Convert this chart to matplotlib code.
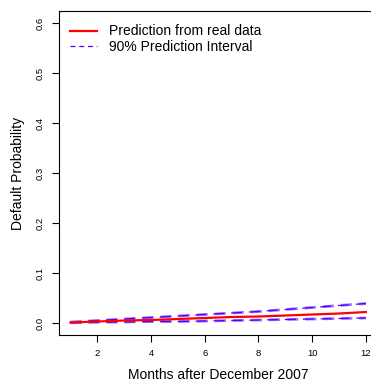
import matplotlib.pyplot as plt

plt.rcParams["font.family"] = ["Liberation Sans", "DejaVu Sans"]

months = list(range(1, 13))
pred = [0.001, 0.003, 0.005, 0.006, 0.008, 0.010, 0.012, 0.013, 0.015, 0.017, 0.019, 0.022]
upper = [0.002, 0.005, 0.008, 0.011, 0.014, 0.017, 0.020, 0.023, 0.027, 0.031, 0.035, 0.039]
lower = [0.0005, 0.0015, 0.002, 0.003, 0.003, 0.004, 0.005, 0.006, 0.007, 0.008, 0.009, 0.010]

x_ticks = [2, 4, 6, 8, 10, 12]
y_ticks = [0.0, 0.1, 0.2, 0.3, 0.4, 0.5, 0.6]


def main():
    fig = plt.figure(figsize=(3.71, 3.83), dpi=100)
    ax = fig.add_axes([0.158, 0.1253, 0.86, 0.846])

    for band in (upper, lower):
        ax.plot(months, band, color="#a070ff", linewidth=2.0, dashes=(4, 2.5))
        ax.plot(months, band, color="#5000ff", linewidth=0.9, dashes=(4 * 2.2, 2.5 * 2.2))
    ax.plot(months, pred, color="red", linewidth=1.6, label="Prediction from real data")
    ax.plot([], [], color="#5000ff", linewidth=0.9, dashes=(4, 3), label="90% Prediction Interval")

    ax.set_xlim(0.56, 12.44)
    ax.set_ylim(-0.024, 0.624)
    ax.set_xticks(x_ticks)
    ax.set_yticks(y_ticks)
    ax.set_yticklabels([f"{v:.1f}" for v in y_ticks], rotation=90, va="center")
    ax.tick_params(labelsize=6.8, length=5, width=0.8, pad=5)
    for s in ax.spines.values():
        s.set_linewidth(0.8)

    ax.set_xlabel("Months after December 2007", fontsize=10, labelpad=7)
    ax.set_ylabel("Default Probability", fontsize=10, labelpad=8)

    ax.legend(loc="upper left", bbox_to_anchor=(0.0, 0.995), frameon=False, fontsize=10,
              handlelength=1.9, handletextpad=0.9, labelspacing=0.12, borderaxespad=0.45)

    fig.savefig("out.png", dpi=100)
    plt.close()


if __name__ == "__main__":
    main()
